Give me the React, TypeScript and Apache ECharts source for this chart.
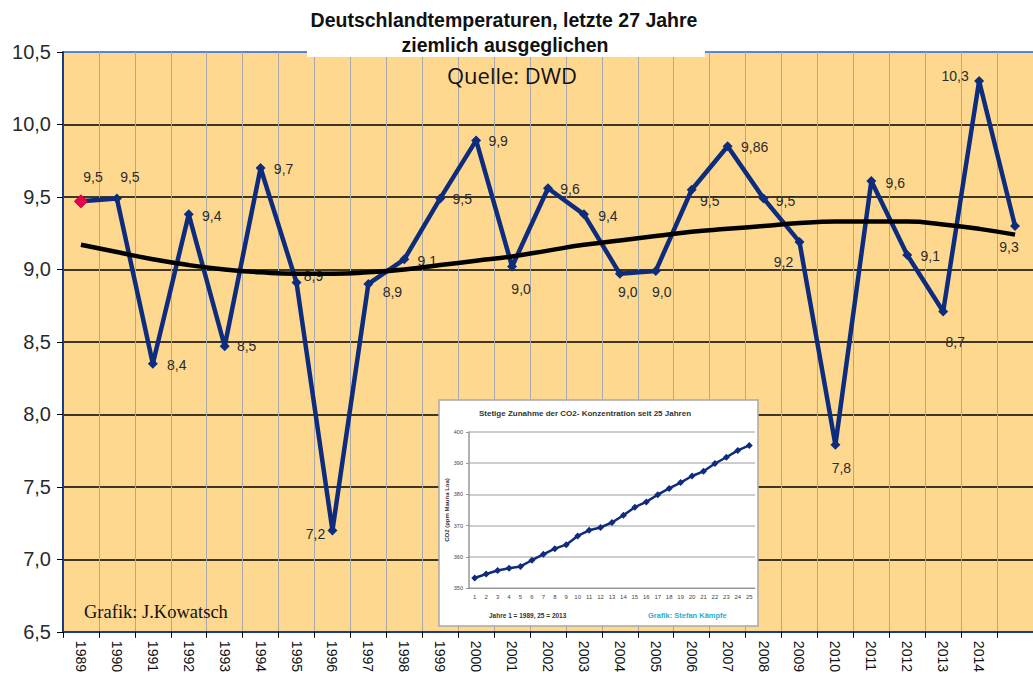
import React, { useEffect, useRef } from "react";
import * as echarts from "echarts";

// ---- Main chart data ----
const xTickLabels = [
  "1989", "1990", "1991", "1992", "1993", "1994", "1995", "1996", "1997",
  "1998", "1999", "2000", "2001", "2002", "2003", "2004", "2005", "2006",
  "2007", "2008", "2009", "2010", "2011", "2012", "2013", "2014", "",
];
const temps = [
  9.47, 9.49, 8.35, 9.38, 8.47, 9.70, 8.91, 7.20, 8.90, 9.07, 9.49, 9.89,
  9.02, 9.56, 9.38, 8.97, 8.99, 9.55, 9.85, 9.49, 9.19, 7.79, 9.61, 9.10,
  8.71, 10.30, 9.30,
];
const tempLabels = [
  "9,5", "9,5", "8,4", "9,4", "8,5", "9,7", "8,9", "7,2", "8,9", "9,1", "9,5",
  "9,9", "9,0", "9,6", "9,4", "9,0", "9,0", "9,5", "9,86", "9,5", "9,2", "7,8",
  "9,6", "9,1", "8,7", "10,3", "9,3",
];
const trend = [
  9.17, 9.12, 9.07, 9.03, 9.0, 8.98, 8.97, 8.97, 8.98, 9.0, 9.03, 9.06, 9.09,
  9.13, 9.17, 9.2, 9.23, 9.26, 9.28, 9.3, 9.32, 9.33, 9.33, 9.33, 9.31, 9.28,
  9.24,
];
const yTicks = { min: 6.5, max: 10.5, interval: 0.5 };

// ---- Inset chart data ----
const co2Years = [
  "1", "2", "3", "4", "5", "6", "7", "8", "9", "10", "11", "12", "13", "14",
  "15", "16", "17", "18", "19", "20", "21", "22", "23", "24", "25",
];
const co2 = [
  353.2, 354.5, 355.6, 356.3, 356.9, 358.9, 360.8, 362.6, 363.9, 366.7, 368.5,
  369.4, 371.0, 373.3, 375.9, 377.6, 379.9, 381.9, 383.8, 385.9, 387.4, 389.9,
  391.9, 394.1, 395.7,
];
const co2Ticks = { min: 350, max: 400, interval: 10 };

// label placement (styling only)
const labelOffsets: [number, number][] = [
  [12, -24], [13, -21], [24, 1], [23, 2], [22, 0], [23, 1], [17, -6], [-17, 4],
  [24, 8], [23, 2], [22, 1], [22, 1], [9, 22], [22, 1], [24, 2], [8, 18],
  [6, 21], [18, 11], [27, 1], [22, 3], [-16, 20], [6, 23], [24, 2], [23, 1],
  [12, 31], [-24, -5], [-6, 21],
];

const NAVY = "#0E2C7E";
const BG = "#FED88F";

export default function App() {
  const ref = useRef<HTMLDivElement>(null);
  useEffect(() => {
    if (!ref.current) return;
    const chart = echarts.init(ref.current, null, { renderer: "svg" });
    const fmt = (v: number) => v.toFixed(1).replace(".", ",");
    const tempData = temps.map((v, i) => ({
      value: v,
      symbol: "diamond",
      symbolSize: i === 0 ? 13 : 10,
      itemStyle: i === 0 ? { color: "#E8004C", borderColor: "#C0003C", borderWidth: 1 } : { color: NAVY },
      label: {
        show: true,
        position: "inside",
        offset: labelOffsets[i],
        formatter: tempLabels[i],
        align: "center",
        verticalAlign: "middle",
        color: "#2a2a2a",
        fontSize: 14,
        fontFamily: "Liberation Sans, Arial, sans-serif",
      },
    }));

    chart.setOption({
      animation: false,
      grid: [
        {
          left: 63, top: 52, right: -7, bottom: 42,
          show: true, backgroundColor: BG, borderWidth: 0, z: 0,
        },
        { left: 469, top: 432, right: 278, bottom: 87, z: 6 },
      ],
      xAxis: [
        {
          type: "category",
          gridIndex: 0,
          data: xTickLabels,
          boundaryGap: true,
          axisLine: { lineStyle: { color: "#1A3C8F", width: 2 } },
          axisTick: { show: true, inside: false, length: 6, lineStyle: { color: "#000" } },
          axisLabel: {
            interval: 0,
            rotate: -90,
            margin: 9,
            color: "#111",
            fontSize: 14,
            fontFamily: "Liberation Sans, Arial, sans-serif",
          },
          splitLine: { show: true, lineStyle: { color: "#ABA8A8", width: 1 } },
        },
        {
          type: "category",
          gridIndex: 1,
          data: co2Years,
          boundaryGap: true,
          z: 6,
          axisLine: { lineStyle: { color: "#999", width: 1 } },
          axisTick: { show: false },
          axisLabel: { interval: 0, fontSize: 6, color: "#444", margin: 6, fontFamily: "Liberation Sans, Arial" },
          splitLine: { show: false },
        },
      ],
      yAxis: [
        {
          type: "value",
          gridIndex: 0,
          min: yTicks.min,
          max: yTicks.max,
          interval: yTicks.interval,
          axisLine: { show: true, lineStyle: { color: "#1A3C8F", width: 2 } },
          axisTick: { show: true, inside: false, length: 6, lineStyle: { color: "#000" } },
          axisLabel: {
            formatter: (v: number) => fmt(v),
            color: "#2a2a2a",
            fontSize: 20,
            margin: 12,
            fontFamily: "Liberation Sans, Arial, sans-serif",
          },
          splitLine: {
            show: true,
            lineStyle: {
              color: ["#000", "#000", "#000", "#000", "#000", "#000", "#000", "#000", "#1E62E8"],
              width: 1.5,
            },
          },
        },
        {
          type: "value",
          gridIndex: 1,
          min: co2Ticks.min,
          max: co2Ticks.max,
          interval: co2Ticks.interval,
          z: 6,
          axisLine: { show: true, lineStyle: { color: "#999", width: 1.5 } },
          axisTick: { show: true, length: 3, lineStyle: { color: "#999" } },
          axisLabel: { fontSize: 5.5, color: "#444", margin: 6, fontFamily: "Liberation Sans, Arial" },
          splitLine: { show: true, lineStyle: { color: "#bdbdbd", width: 1.5 } },
        },
      ],
      series: [
        {
          type: "line",
          xAxisIndex: 0,
          yAxisIndex: 0,
          data: tempData,
          lineStyle: { color: NAVY, width: 4.5 },
          z: 2,
        },
        {
          type: "line",
          xAxisIndex: 0,
          yAxisIndex: 0,
          data: trend,
          smooth: true,
          showSymbol: false,
          lineStyle: { color: "#000", width: 4.5 },
          z: 3,
        },
        {
          type: "line",
          xAxisIndex: 1,
          yAxisIndex: 1,
          data: co2,
          symbol: "diamond",
          symbolSize: 7,
          itemStyle: { color: "#102C7C" },
          lineStyle: { color: "#102C7C", width: 2.5 },
          z: 8,
        },
      ],
      graphic: [
        {
          type: "rect",
          z: 5,
          shape: { x: 439, y: 400, width: 319, height: 226 },
          style: { fill: "#fff", stroke: "#a8a8a8", lineWidth: 1.5 },
        },
        {
          type: "text",
          z: 9,
          x: 585,
          y: 413,
          style: {
            text: "Stetige Zunahme der CO2- Konzentration seit 25 Jahren",
            fontSize: 8,
            fontWeight: "bold",
            fill: "#333",
            align: "center",
            verticalAlign: "middle",
            fontFamily: "Liberation Sans, Arial",
          },
        },
        {
          type: "text",
          z: 9,
          x: 447,
          y: 510,
          rotation: Math.PI / 2,
          style: {
            text: "CO2 (ppm Mauna Loa)",
            fontSize: 6,
            fontWeight: "bold",
            fill: "#333",
            align: "center",
            verticalAlign: "middle",
            fontFamily: "Liberation Sans, Arial",
          },
        },
        {
          type: "text",
          z: 9,
          x: 489,
          y: 615,
          style: {
            text: "Jahre 1 = 1989, 25 = 2013",
            fontSize: 6.5,
            fontWeight: "bold",
            fill: "#333",
            align: "left",
            verticalAlign: "middle",
            fontFamily: "Liberation Sans, Arial",
          },
        },
        {
          type: "text",
          z: 9,
          x: 648,
          y: 615,
          style: {
            text: "Grafik: Stefan Kämpfe",
            fontSize: 7.5,
            fontWeight: "bold",
            fill: "#1CB0D2",
            align: "left",
            verticalAlign: "middle",
            fontFamily: "Liberation Sans, Arial",
          },
        },
        {
          type: "rect",
          z: 10,
          shape: { x: 307, y: 0, width: 398, height: 57 },
          style: { fill: "#fff" },
        },
        {
          type: "text",
          z: 11,
          x: 504,
          y: 20,
          style: {
            text: "Deutschlandtemperaturen, letzte 27 Jahre",
            fontSize: 19.5,
            fontWeight: "bold",
            fill: "#111",
            align: "center",
            verticalAlign: "middle",
            fontFamily: "Liberation Sans, Arial, sans-serif",
          },
        },
        {
          type: "text",
          z: 11,
          x: 505,
          y: 45,
          style: {
            text: "ziemlich ausgeglichen",
            fontSize: 19.5,
            fontWeight: "bold",
            fill: "#111",
            align: "center",
            verticalAlign: "middle",
            fontFamily: "Liberation Sans, Arial, sans-serif",
          },
        },
        {
          type: "text",
          z: 11,
          x: 512,
          y: 75,
          style: {
            text: "Quelle: DWD",
            fontSize: 22,
            fill: "#111",
            align: "center",
            verticalAlign: "middle",
            fontFamily: "Open Sans, Noto Sans, sans-serif",
          },
        },
        {
          type: "text",
          z: 11,
          x: 84,
          y: 612,
          style: {
            text: "Grafik: J.Kowatsch",
            fontSize: 18.5,
            fill: "#111",
            align: "left",
            verticalAlign: "middle",
            fontFamily: "Liberation Serif, Times New Roman, serif",
          },
        },
      ],
    });
    return () => chart.dispose();
  }, []);
  return (
    <div
      ref={ref}
      style={{ position: "absolute", left: 0, top: 0, width: 1033, height: 675, background: "#fff" }}
    />
  );
}
